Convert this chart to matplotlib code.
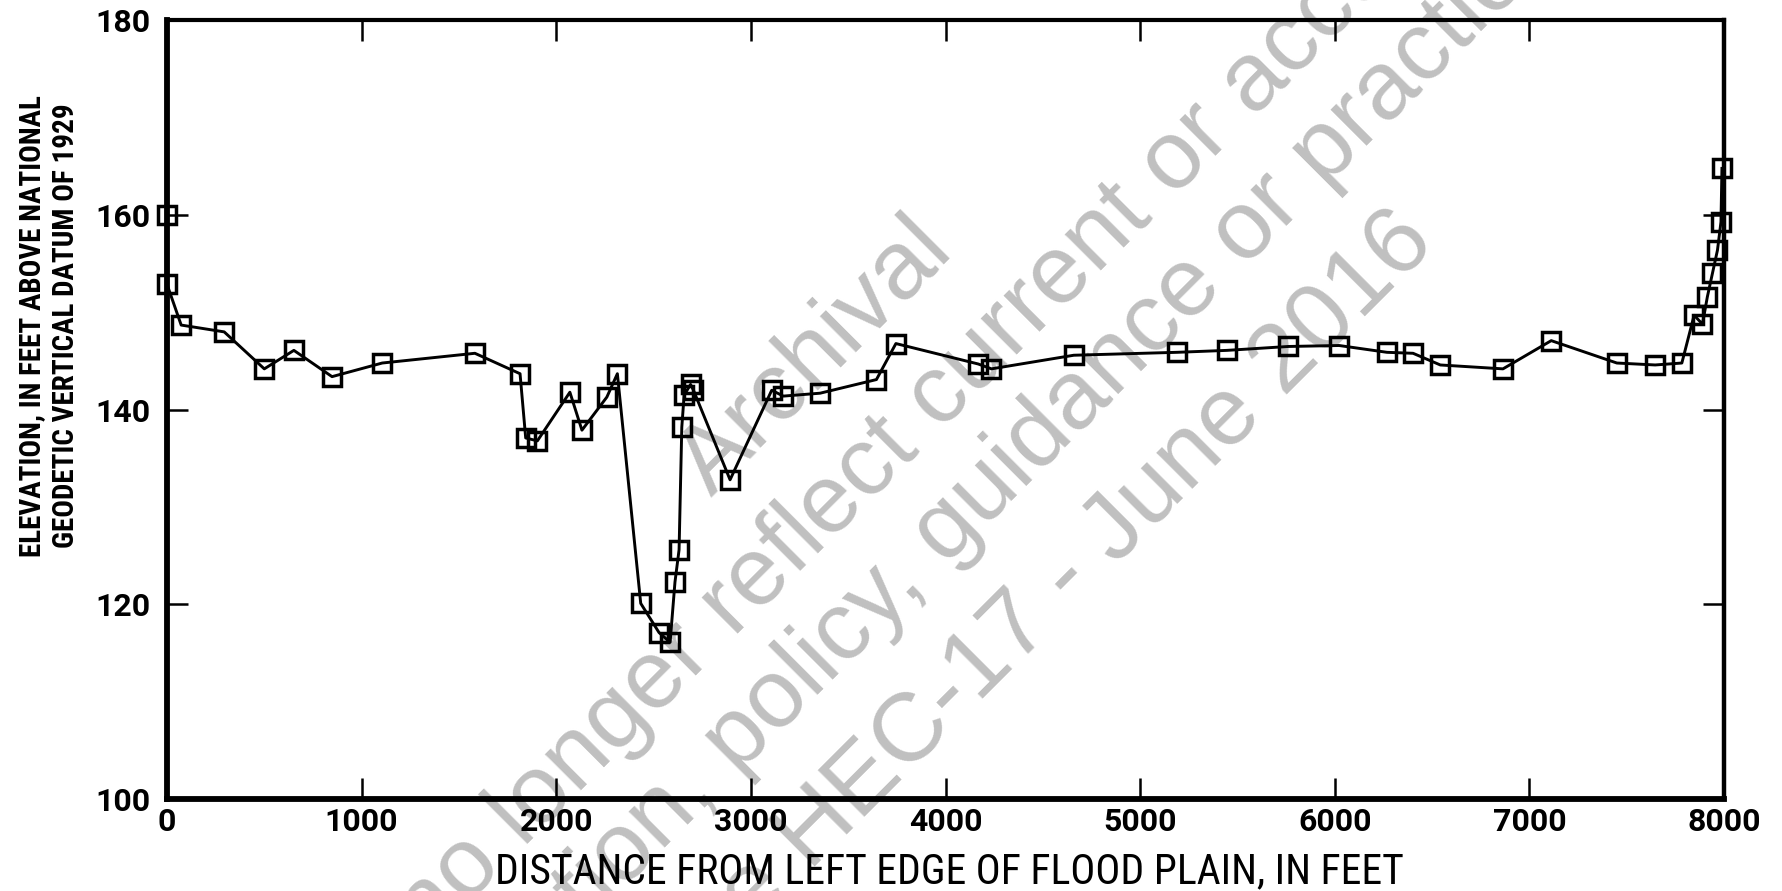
import matplotlib
matplotlib.use("Agg")
import matplotlib.pyplot as plt

# surveyed cross-section, distance (ft) vs ground elevation (ft, NGVD 1929)
distance_ft = [0, 0, 73, 294, 500, 652, 848, 1106, 1582, 1814, 1843, 1903,
               2070, 2132, 2260, 2314, 2434, 2528, 2585, 2610, 2631, 2645,
               2657, 2690, 2705, 2893, 3107, 3167, 3356, 3645, 3745, 4168,
               4236, 4659, 5190, 5446, 5761, 6022, 6268, 6402, 6542, 6864,
               7112, 7449, 7646, 7783, 7846, 7889, 7914, 7940, 7966, 7984,
               7989]
elevation_ft = [160.0, 152.9, 148.7, 148.0, 144.2, 146.1, 143.4, 144.8, 145.8,
                143.7, 137.1, 136.8, 141.8, 137.9, 141.3, 143.7, 120.1, 117.1,
                116.1, 122.3, 125.6, 138.2, 141.5, 142.6, 142.0, 132.8, 142.0,
                141.4, 141.7, 143.1, 146.8, 144.7, 144.2, 145.6, 145.9, 146.1,
                146.5, 146.6, 145.9, 145.8, 144.6, 144.2, 147.1, 144.8, 144.6,
                144.8, 149.7, 148.8, 151.6, 154.0, 156.4, 159.3, 164.8]

x_ticks = [0, 1000, 2000, 3000, 4000, 5000, 6000, 7000, 8000]
y_ticks = [100, 120, 140, 160, 180]

x_label = "DISTANCE FROM LEFT EDGE OF FLOOD PLAIN, IN FEET"
y_label = "ELEVATION, IN FEET ABOVE NATIONAL\nGEODETIC VERTICAL DATUM OF 1929"

stamp_lines = ["Archival",
               "no longer reflect current or accepted",
               "information, policy, guidance or practice",
               "See HEC-17 - June 2016"]
stamp_xy = [(0.458, 0.599), (0.540, 0.580), (0.530, 0.402), (0.581, 0.314)]

NARROW = ["Roboto Condensed", "Roboto"]

fig = plt.figure(figsize=(17.82, 8.91), dpi=100)
ax = fig.add_axes([0.0937, 0.1033, 0.8738, 0.8737])

ax.plot(distance_ft, elevation_ft, color="black", lw=2.1,
        marker="s", ms=13.5, mfc="none", mec="black", mew=2.5,
        clip_on=False, zorder=3)

ax.set_xlim(0, 8000)
ax.set_ylim(100, 180)
ax.set_xticks(x_ticks)
ax.set_yticks(y_ticks)
ax.set_xticklabels([str(v) for v in x_ticks])
ax.set_yticklabels([str(v) for v in y_ticks])

for side, lw in (("left", 4.2), ("bottom", 4.2), ("top", 3.0), ("right", 3.2)):
    ax.spines[side].set_linewidth(lw)
ax.tick_params(axis="both", direction="in", length=15, width=1.8,
               top=True, right=True, colors="black")
ax.tick_params(axis="x", pad=6)
ax.tick_params(axis="y", pad=12)
for lab in ax.get_xticklabels() + ax.get_yticklabels():
    lab.set_fontfamily("Roboto")
    lab.set_fontweight("bold")
    lab.set_fontsize(23)

fig.text(0.533, 0.022, x_label, ha="center", va="center",
         fontsize=30, family=NARROW)
fig.text(0.0275, 0.634, y_label, ha="center", va="center", rotation=90,
         fontsize=21, family=NARROW, fontweight="bold", linespacing=1.3)

# grey archive stamp across the page, under the data
for txt, (fx, fy) in zip(stamp_lines, stamp_xy):
    ax.text(fx, fy, txt, transform=fig.transFigure, rotation=45,
            rotation_mode="anchor", ha="center", va="center",
            fontsize=70, family="Liberation Sans", color="#c0c0c0",
            clip_on=False, zorder=0.5)

fig.savefig("out.png", dpi=100)
